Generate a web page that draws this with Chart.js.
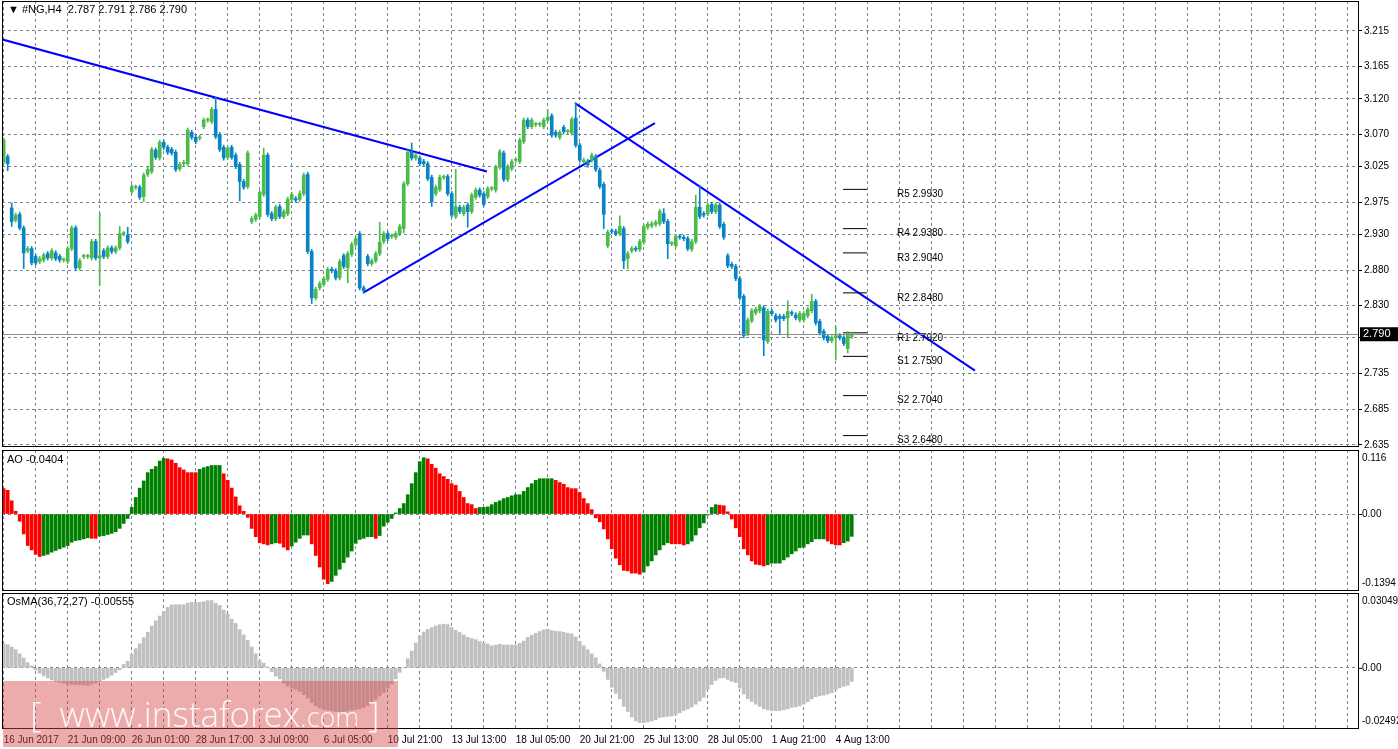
<!DOCTYPE html>
<html lang="en">
<head>
<meta charset="UTF-8" />
<title>#NG,H4</title>
<script src="https://cdn.jsdelivr.net/npm/chart.js@4"></script>
<style>
    body { margin: 0; background: #fff; font-family: "Liberation Sans", sans-serif; }
    #wrap { position: relative; width: 1398px; height: 749px; overflow: hidden; }
    canvas { position: absolute; left: 0; }
    .lbl { position: absolute; font-size: 11px; color: #000; white-space: pre; }
    #wm { position: absolute; left: 3px; top: 681px; width: 395px; height: 66px;
          background: rgba(214, 70, 70, 0.45); color: rgba(255,255,255,0.9);
          font-family: "Open Sans", sans-serif; font-weight: 300; font-size: 35px;
          line-height: 66px; white-space: pre; pointer-events: none; }
</style>
</head>
<body>
<div id="wrap">
    <canvas id="price" width="1398" height="448" style="top:0"></canvas>
    <canvas id="ao" width="1398" height="143" style="top:449px"></canvas>
    <canvas id="osma" width="1398" height="157" style="top:592px"></canvas>
    <div class="lbl" style="left:8px;top:3px">▼ #NG,H4  2.787 2.791 2.786 2.790</div>
    <div class="lbl" style="left:7px;top:453px">AO -0.0404</div>
    <div class="lbl" style="left:7px;top:595px">OsMA(36,72,27) -0.00555</div>
    <div id="wm">   [  www.instaforex<span style="font-size:27px">.com</span> ]</div>
</div>

<script>
    // H4 candles, oldest first
    const opens = [
        3.031, 3.039, 2.967, 2.950, 2.958, 2.939, 2.907, 2.910, 2.899, 2.892,
        2.894, 2.903, 2.897, 2.904, 2.899, 2.894, 2.892, 2.910, 2.939, 2.883,
        2.899, 2.899, 2.897, 2.920, 2.897, 2.907, 2.899, 2.911, 2.906, 2.911,
        2.931, 2.929, 2.990, 2.996, 2.996, 2.983, 3.014, 3.018, 3.048, 3.037,
        3.059, 3.052, 3.049, 3.045, 3.022, 3.029, 3.029, 3.073, 3.066, 3.065,
        3.081, 3.090, 3.088, 3.105, 3.070, 3.052, 3.038, 3.052, 3.041, 3.028,
        3.004, 2.997, 2.948, 2.951, 2.955, 2.986, 3.041, 2.959, 2.952, 2.969,
        2.955, 2.959, 2.979, 2.980, 2.979, 2.987, 3.014, 2.906, 2.841, 2.855,
        2.860, 2.867, 2.881, 2.879, 2.869, 2.900, 2.883, 2.902, 2.916, 2.931,
        2.855, 2.899, 2.889, 2.893, 2.903, 2.920, 2.931, 2.927, 2.926, 2.931,
        2.938, 3.001, 3.045, 3.037, 3.037, 3.032, 3.029, 3.010, 2.987, 2.993,
        3.010, 3.011, 2.987, 2.955, 2.968, 2.959, 2.971, 2.962, 2.982, 2.992,
        2.987, 2.983, 2.994, 2.992, 3.024, 3.044, 3.007, 3.022, 3.034, 3.032,
        3.060, 3.090, 3.081, 3.084, 3.084, 3.081, 3.090, 3.096, 3.073, 3.066,
        3.080, 3.074, 3.072, 3.093, 3.055, 3.032, 3.032, 3.034, 3.039, 3.020,
        3.000, 2.914, 2.935, 2.934, 2.931, 2.938, 2.896, 2.907, 2.910, 2.909,
        2.919, 2.940, 2.942, 2.944, 2.945, 2.959, 2.948, 2.917, 2.914, 2.927,
        2.926, 2.924, 2.909, 2.920, 2.968, 2.959, 2.959, 2.972, 2.962, 2.971,
        2.944, 2.900, 2.888, 2.885, 2.868, 2.843, 2.791, 2.809, 2.820, 2.823,
        2.827, 2.780, 2.822, 2.816, 2.815, 2.815, 2.813, 2.820, 2.817, 2.810,
        2.810, 2.816, 2.823, 2.836, 2.808, 2.794, 2.787, 2.781, 2.785, 2.788,
        2.785, 2.770, 2.787
    ];
    const closes = [
        3.062, 3.029, 2.948, 2.957, 2.939, 2.904, 2.910, 2.890, 2.890, 2.896,
        2.901, 2.897, 2.907, 2.896, 2.894, 2.894, 2.910, 2.939, 2.883, 2.893,
        2.899, 2.899, 2.920, 2.897, 2.900, 2.899, 2.911, 2.906, 2.911, 2.931,
        2.931, 2.920, 2.997, 2.996, 2.982, 3.013, 3.021, 3.049, 3.038, 3.059,
        3.052, 3.045, 3.044, 3.021, 3.028, 3.031, 3.076, 3.066, 3.060, 3.066,
        3.090, 3.090, 3.105, 3.067, 3.049, 3.037, 3.051, 3.038, 3.025, 3.004,
        2.996, 3.044, 2.952, 2.957, 2.989, 3.041, 2.958, 2.952, 2.968, 2.955,
        2.962, 2.979, 2.986, 2.978, 2.987, 3.013, 2.906, 2.841, 2.853, 2.861,
        2.868, 2.881, 2.879, 2.869, 2.892, 2.885, 2.903, 2.916, 2.924, 2.855,
        2.851, 2.889, 2.893, 2.903, 2.919, 2.931, 2.924, 2.927, 2.931, 2.941,
        3.001, 3.045, 3.037, 3.041, 3.029, 3.029, 3.008, 2.976, 2.996, 3.010,
        3.010, 2.987, 2.957, 2.969, 2.962, 2.968, 2.962, 2.985, 2.992, 2.985,
        2.972, 2.994, 2.994, 3.024, 3.046, 3.007, 3.025, 3.032, 3.034, 3.062,
        3.090, 3.081, 3.090, 3.084, 3.084, 3.090, 3.094, 3.069, 3.069, 3.073,
        3.074, 3.074, 3.091, 3.055, 3.034, 3.034, 3.027, 3.041, 3.021, 2.997,
        2.958, 2.933, 2.934, 2.931, 2.941, 2.893, 2.903, 2.910, 2.909, 2.920,
        2.941, 2.944, 2.945, 2.947, 2.962, 2.948, 2.917, 2.917, 2.927, 2.926,
        2.924, 2.910, 2.920, 2.968, 2.955, 2.957, 2.971, 2.962, 2.971, 2.941,
        2.926, 2.886, 2.885, 2.868, 2.841, 2.788, 2.810, 2.823, 2.825, 2.829,
        2.782, 2.822, 2.819, 2.810, 2.812, 2.812, 2.822, 2.819, 2.813, 2.819,
        2.819, 2.825, 2.836, 2.806, 2.792, 2.785, 2.781, 2.785, 2.788, 2.785,
        2.777, 2.791, 2.790
    ];
    // shadow lengths above / below the body, in thousandths
    const tailUp = [
        3, 3, 7, 3, 3, 3, 3, 3, 3, 3, 3, 3, 3, 3, 3, 3, 3, 3, 3, 3,
        3, 3, 3, 3, 60, 3, 3, 3, 3, 10, 3, 11, 3, 3, 3, 3, 3, 3, 3, 3,
        3, 3, 3, 3, 3, 3, 3, 3, 3, 3, 3, 3, 3, 17, 3, 3, 3, 3, 3, 3,
        3, 3, 3, 3, 3, 10, 3, 3, 3, 3, 3, 3, 3, 3, 4, 3, 3, 3, 3, 3,
        3, 3, 3, 3, 3, 3, 3, 3, 3, 3, 3, 3, 3, 3, 28, 3, 3, 3, 3, 3,
        3, 3, 13, 3, 3, 3, 3, 3, 3, 3, 3, 3, 3, 52, 3, 3, 3, 3, 3, 3,
        3, 3, 3, 3, 3, 3, 3, 3, 3, 3, 3, 3, 3, 3, 3, 3, 11, 3, 3, 3,
        3, 3, 3, 21, 3, 3, 3, 3, 3, 3, 3, 3, 3, 3, 15, 3, 3, 3, 3, 3,
        3, 3, 3, 3, 3, 7, 3, 3, 3, 3, 3, 3, 3, 17, 31, 3, 3, 3, 3, 3,
        3, 3, 3, 3, 3, 3, 3, 3, 3, 3, 3, 3, 3, 3, 3, 3, 15, 3, 3, 3,
        3, 3, 10, 3, 3, 3, 3, 3, 13, 3, 3, 3, 3
    ];
    const tailDn = [
        3, 10, 7, 3, 3, 22, 3, 3, 3, 3, 3, 3, 3, 3, 3, 3, 3, 3, 3, 3,
        3, 3, 3, 3, 39, 3, 3, 3, 3, 3, 3, 3, 3, 3, 3, 7, 3, 3, 3, 3,
        3, 3, 3, 3, 3, 3, 3, 3, 3, 3, 3, 3, 3, 3, 3, 3, 3, 3, 3, 27,
        3, 3, 3, 3, 3, 3, 3, 3, 3, 3, 3, 3, 3, 3, 3, 3, 3, 8, 3, 3,
        3, 3, 3, 3, 3, 3, 21, 3, 3, 3, 3, 3, 3, 3, 3, 3, 3, 3, 3, 3,
        6, 3, 3, 3, 3, 3, 3, 7, 3, 3, 3, 3, 3, 3, 3, 3, 22, 3, 3, 3,
        3, 3, 3, 3, 3, 3, 3, 3, 3, 3, 3, 3, 3, 3, 3, 3, 3, 3, 3, 3,
        3, 3, 3, 3, 3, 3, 3, 3, 3, 3, 20, 3, 3, 3, 3, 11, 14, 3, 3, 3,
        3, 3, 3, 3, 3, 3, 21, 3, 3, 3, 3, 3, 3, 3, 3, 3, 3, 3, 3, 3,
        3, 3, 3, 3, 3, 3, 3, 3, 3, 3, 22, 3, 3, 3, 21, 3, 28, 3, 3, 3,
        3, 3, 3, 3, 3, 3, 3, 3, 31, 3, 3, 6, 3
    ];

    const aoValues = [
        0.046, 0.043, 0.024, 0.005, -0.013, -0.036, -0.057, -0.065, -0.073, -0.077,
        -0.075, -0.073, -0.069, -0.066, -0.063, -0.060, -0.057, -0.051, -0.048, -0.047,
        -0.045, -0.043, -0.044, -0.044, -0.040, -0.039, -0.037, -0.035, -0.032, -0.026,
        -0.017, -0.008, 0.012, 0.030, 0.047, 0.060, 0.075, 0.081, 0.086, 0.096,
        0.101, 0.100, 0.098, 0.092, 0.084, 0.080, 0.075, 0.075, 0.075, 0.081,
        0.084, 0.086, 0.088, 0.088, 0.088, 0.073, 0.061, 0.047, 0.031, 0.015,
        0.005, -0.006, -0.026, -0.041, -0.052, -0.054, -0.056, -0.054, -0.052, -0.053,
        -0.060, -0.065, -0.058, -0.051, -0.044, -0.038,
        -0.038, -0.054, -0.075, -0.096, -0.118, -0.126, -0.122, -0.111, -0.100, -0.088,
        -0.078, -0.067, -0.053, -0.046, -0.044, -0.041, -0.041, -0.044, -0.039, -0.022,
        -0.015, -0.008, 0.002, 0.010, 0.019, 0.035, 0.055, 0.075, 0.095, 0.102,
        0.100, 0.090, 0.083, 0.073,
        0.068, 0.063, 0.055, 0.052, 0.041, 0.030, 0.019, 0.017, 0.010, 0.012,
        0.012, 0.013, 0.017, 0.021, 0.024, 0.028, 0.030, 0.033, 0.035, 0.035,
        0.041, 0.048, 0.055, 0.061, 0.064, 0.064, 0.064, 0.064, 0.061, 0.057,
        0.054, 0.048, 0.046, 0.046, 0.039, 0.028, 0.019, 0.008, -0.007, -0.014,
        -0.027, -0.045, -0.063, -0.080, -0.092, -0.102, -0.103, -0.107, -0.107, -0.109,
        -0.105, -0.094, -0.085, -0.074, -0.065, -0.056, -0.052, -0.054, -0.054, -0.054,
        -0.056, -0.054, -0.049, -0.038, -0.025, -0.016, -0.002, 0.012, 0.017, 0.016,
        0.015, 0.004, -0.009, -0.025, -0.041, -0.063, -0.074, -0.085, -0.091, -0.092,
        -0.094, -0.092, -0.089, -0.089, -0.089, -0.083, -0.078, -0.072, -0.067, -0.061,
        -0.060, -0.054, -0.050, -0.045, -0.045, -0.045, -0.049, -0.054, -0.056, -0.056,
        -0.052, -0.049, -0.0404
    ];

    const osmaValues = [
        0.0098, 0.0094, 0.0085, 0.0074, 0.0057, 0.0040, 0.0021, 0.0008, -0.0008, -0.0022,
        -0.0033, -0.0041, -0.0049, -0.0055, -0.0059, -0.0063, -0.0066, -0.0067, -0.0068, -0.0068,
        -0.0070, -0.0071, -0.0066, -0.0062, -0.0055, -0.0047, -0.0040, -0.0030, -0.0019, -0.0008,
        0.0014, 0.0027, 0.0055, 0.0078, 0.0098, 0.0123, 0.0145, 0.0170, 0.0192, 0.0211,
        0.0230, 0.0246, 0.0256, 0.0257, 0.0257, 0.0257, 0.0264, 0.0267, 0.0267, 0.0267,
        0.0270, 0.0274, 0.0274, 0.0263, 0.0254, 0.0235, 0.0219, 0.0198, 0.0181, 0.0156,
        0.0134, 0.0112, 0.0085, 0.0057, 0.0029, 0.0019, 0.0003, -0.0016, -0.0034, -0.0045,
        -0.0063, -0.0074, -0.0082, -0.0088, -0.0096, -0.0109, -0.0123, -0.0141, -0.0155, -0.0164,
        -0.0170, -0.0172, -0.0175, -0.0178, -0.0178, -0.0178, -0.0176, -0.0172, -0.0170, -0.0167,
        -0.0161, -0.0153, -0.0142, -0.0129, -0.0115, -0.0101, -0.0082, -0.0066, -0.0045, -0.0018,
        0.0000, 0.0037, 0.0068, 0.0101, 0.0129, 0.0146, 0.0157, 0.0164, 0.0171,
        0.0176, 0.0178, 0.0176, 0.0164, 0.0153, 0.0144, 0.0134, 0.0124, 0.0119, 0.0115,
        0.0107, 0.0101, 0.0097, 0.0090, 0.0093, 0.0096, 0.0093, 0.0093, 0.0093, 0.0093,
        0.0100, 0.0109, 0.0124, 0.0133, 0.0141, 0.0148, 0.0155, 0.0157, 0.0152, 0.0149,
        0.0148, 0.0145, 0.0141, 0.0138, 0.0126, 0.0108, 0.0090, 0.0074, 0.0057, 0.0041,
        0.0016, -0.0014, -0.0047, -0.0079, -0.0104, -0.0126, -0.0157, -0.0178, -0.0200, -0.0216,
        -0.0223, -0.0224, -0.0220, -0.0216, -0.0211, -0.0202, -0.0200, -0.0198, -0.0196, -0.0190,
        -0.0183, -0.0174, -0.0168, -0.0160, -0.0148, -0.0135, -0.0120, -0.0088, -0.0068, -0.0051,
        -0.0042, -0.0040, -0.0047, -0.0055, -0.0060, -0.0082, -0.0107, -0.0126, -0.0137, -0.0148,
        -0.0157, -0.0167, -0.0171, -0.0174, -0.0174, -0.0174, -0.0171, -0.0167, -0.0161, -0.0159,
        -0.0155, -0.0148, -0.0138, -0.0127, -0.0118, -0.0114, -0.0111, -0.0107, -0.0101, -0.0090,
        -0.0082, -0.0075, -0.0071, -0.00555
    ];

    // one label every 16 bars
    const timeLabels = ["16 Jun 2017", "21 Jun 09:00", "26 Jun 01:00", "28 Jun 17:00", "3 Jul 09:00",
        "6 Jul 05:00", "10 Jul 21:00", "13 Jul 13:00", "18 Jul 05:00", "20 Jul 21:00",
        "25 Jul 13:00", "28 Jul 05:00", "1 Aug 21:00", "4 Aug 13:00"];
    const priceTicks = ["3.215", "3.165", "3.120", "3.070", "3.025", "2.975", "2.930",
        "2.880", "2.830", "2.785", "2.735", "2.685", "2.635"];

    const pivotNames = ["R5", "R4", "R3", "R2", "R1", "S1", "S2", "S3"];
    const pivotValues = [2.9930, 2.9380, 2.9040, 2.8480, 2.7920, 2.7590, 2.7040, 2.6480];
    const pivotSpan = [209.8, 215.8];
    const pivotLabelAt = 223.3;

    // trend lines: [bar index, price] endpoints
    const trendLines = [
        [[-0.9, 3.204], [120.8, 3.018]],
        [[89.8, 2.848], [162.8, 3.086]],
        [[142.8, 3.114], [242.8, 2.739]]
    ];
    const lastPrice = 2.790;
    const aoRange = [-0.1394, 0.116];
    const osmaRange = [-0.02492, 0.03049];

    const SMALL = { family: "Liberation Sans", size: 10 };
    const GRID = '#77838f';
    const X_MIN = -0.425, X_MAX = 338.8;
    const gridIdx = [];
    for (let i = 0; i <= X_MAX; i += 8) gridIdx.push(i);

    function xAxis(showLabels) {
        return {
            type: 'linear', min: X_MIN, max: X_MAX, offset: false,
            grid: { color: GRID, drawTicks: false, offset: false },
            border: { display: false, dash: [3, 3] },
            afterBuildTicks: a => { a.ticks = gridIdx.map(v => ({ value: v })); },
            afterFit: a => { a.height = showLabels ? 20 : 0; a.paddingLeft = 0; a.paddingRight = 0; },
            ticks: {
                display: showLabels, autoSkip: false, maxRotation: 0, align: 'start',
                padding: 5, color: '#000', font: SMALL,
                callback: v => (v % 16 === 0 && timeLabels[v / 16]) ? timeLabels[v / 16] : ''
            }
        };
    }

    function yFit(a) {
        a.width = 39;
        a.paddingTop = 0;
        a.paddingBottom = 0;
    }

    const framePlugin = {
        id: 'frame',
        afterDraw(chart) {
            const { ctx, chartArea: a } = chart;
            ctx.save();
            ctx.strokeStyle = '#000';
            ctx.lineWidth = 1;
            ctx.strokeRect(Math.round(a.left) + 0.5, Math.round(a.top) + 0.5,
                Math.round(a.right - a.left) - 1, Math.round(a.bottom - a.top) - 1);
            ctx.restore();
        }
    };

    function sideLabels(texts) {
        return {
            id: 'sideLabels',
            afterDraw(chart) {
                const { ctx, chartArea: a, scales } = chart;
                ctx.save();
                ctx.font = '10px "Liberation Sans"';
                ctx.fillStyle = '#000';
                ctx.textBaseline = 'middle';
                const z = scales.y.getPixelForValue(0);
                ctx.fillText(texts[0], a.right + 3, a.top + 8);
                ctx.fillText('0.00', a.right + 3, z);
                ctx.fillText(texts[1], a.right + 3, a.bottom - 8);
                ctx.strokeStyle = '#000';
                ctx.beginPath();
                ctx.moveTo(a.right, z + 0.5); ctx.lineTo(a.right + 3, z + 0.5);
                ctx.stroke();
                ctx.restore();
            }
        };
    }

    const idx = opens.map((_, i) => i);
    const bull = '#4cbb4c', bear = '#0a84c6';
    const candleColors = idx.map(i => closes[i] >= opens[i] ? bull : bear);

    const priceOverlay = {
        id: 'priceOverlay',
        afterDatasetsDraw(chart) {
            const { ctx, chartArea: a, scales } = chart;
            ctx.save();
            ctx.font = '10px "Liberation Sans"';
            ctx.fillStyle = '#000';
            ctx.textBaseline = 'middle';
            pivotNames.forEach((n, i) => {
                const y = scales.y.getPixelForValue(pivotValues[i]) + 5;
                ctx.fillText(n + ' ' + pivotValues[i].toFixed(4), scales.x.getPixelForValue(pivotLabelAt), y);
            });
            const y = Math.round(scales.y.getPixelForValue(lastPrice)) + 0.5;
            ctx.strokeStyle = '#8c8c8c';
            ctx.beginPath(); ctx.moveTo(a.left, y); ctx.lineTo(a.right, y); ctx.stroke();
            ctx.restore();
        },
        afterDraw(chart) {
            const { ctx, chartArea: a, scales } = chart;
            const y = scales.y.getPixelForValue(lastPrice);
            ctx.save();
            ctx.fillStyle = '#000';
            ctx.fillRect(a.right + 1, y - 7, 38, 14);
            ctx.fillStyle = '#fff';
            ctx.font = '11px "Liberation Sans"';
            ctx.textBaseline = 'middle';
            ctx.fillText(lastPrice.toFixed(3), a.right + 4, y);
            ctx.restore();
        }
    };

    const baseOpts = {
        responsive: false, animation: false,
        layout: { padding: { left: 2, top: 1, right: 0, bottom: 1 } },
        plugins: { legend: { display: false }, tooltip: { enabled: false } }
    };

    new Chart(document.getElementById('price'), {
        type: 'bar',
        data: {
            datasets: [
                {
                    data: idx.map(i => ({ x: i, y: [Math.min(opens[i], closes[i]) - tailDn[i] / 1000, Math.max(opens[i], closes[i]) + tailUp[i] / 1000] })),
                    backgroundColor: candleColors, barThickness: 1, grouped: false
                },
                {
                    data: idx.map(i => ({ x: i, y: [opens[i], closes[i]] })),
                    backgroundColor: candleColors, barThickness: 3, minBarLength: 1, grouped: false
                },
                ...pivotValues.map(v => ({
                    type: 'line', data: pivotSpan.map(x => ({ x, y: v })),
                    borderColor: '#000', borderWidth: 1, pointRadius: 0
                })),
                ...trendLines.map(t => ({
                    type: 'line', data: t.map(p => ({ x: p[0], y: p[1] })),
                    borderColor: '#0000ff', borderWidth: 2, pointRadius: 0
                }))
            ]
        },
        options: {
            ...baseOpts,
            scales: {
                x: xAxis(false),
                y: {
                    position: 'right', min: 2.632, max: 3.257,
                    afterBuildTicks: a => { a.ticks = priceTicks.map(t => ({ value: parseFloat(t) })); },
                    afterFit: yFit,
                    grid: { color: GRID, tickColor: '#000', tickLength: 3 },
                    border: { display: false, dash: [3, 3] },
                    ticks: { color: '#000', font: SMALL, padding: 2, callback: (v, i) => priceTicks[i] }
                }
            }
        },
        plugins: [framePlugin, priceOverlay]
    });

    function histChart(id, values, range, colors, labels, showX) {
        new Chart(document.getElementById(id), {
            type: 'bar',
            data: {
                datasets: [{
                    data: values.map((v, i) => ({ x: i, y: v })),
                    backgroundColor: colors, barThickness: 3, grouped: false
                }]
            },
            options: {
                ...baseOpts,
                layout: { padding: { left: 2, top: 1, right: 0, bottom: showX ? 0 : 1 } },
                scales: {
                    x: xAxis(showX),
                    y: {
                        position: 'right', min: range[0], max: range[1],
                        afterBuildTicks: a => { a.ticks = [{ value: 0 }]; },
                        afterFit: yFit,
                        grid: { color: GRID, drawTicks: false },
                        border: { display: false, dash: [3, 3] },
                        ticks: { display: false }
                    }
                }
            },
            plugins: [framePlugin, sideLabels(labels)]
        });
    }

    let aoColor = '#ff0000';
    const aoColors = aoValues.map((v, i) => {
        if (i > 0 && v > aoValues[i - 1]) aoColor = '#008000';
        else if (i > 0 && v < aoValues[i - 1]) aoColor = '#ff0000';
        return aoColor;
    });

    histChart('ao', aoValues, aoRange, aoColors, ['0.116', '-0.1394'], false);
    histChart('osma', osmaValues, osmaRange, '#c0c0c0', ['0.03049', '-0.02492'], true);
</script>
</body>
</html>
